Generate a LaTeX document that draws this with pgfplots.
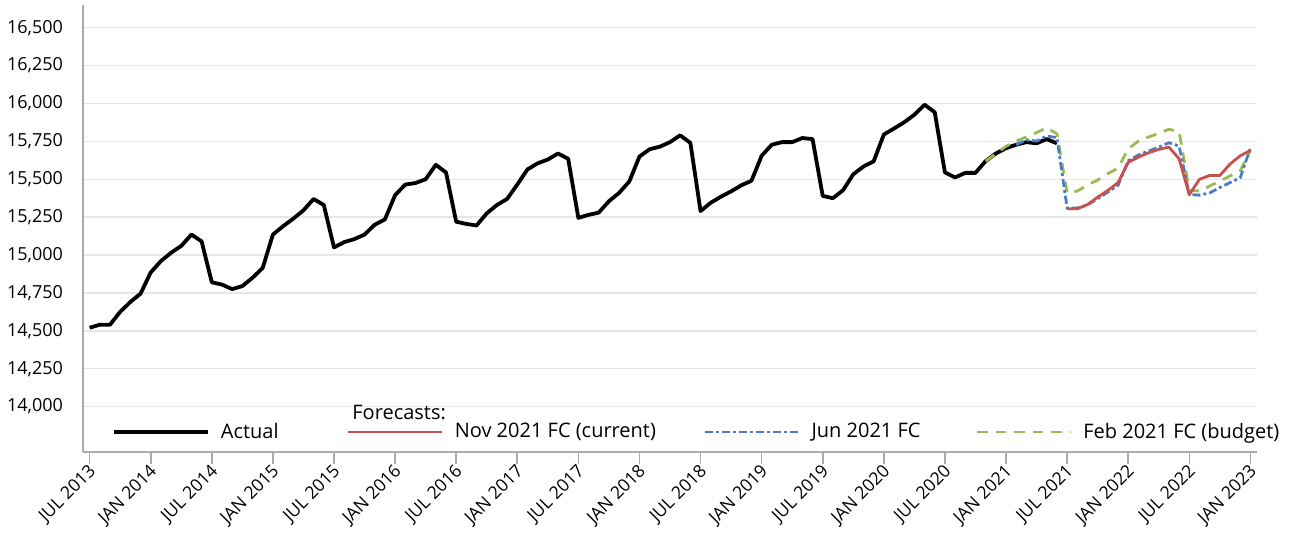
\documentclass[border=0pt]{standalone}
\usepackage{fontspec}
\setmainfont{Open Sans}
\usepackage{pgfplots}
\pgfplotsset{compat=1.18}
\definecolor{fcred}{HTML}{C8504D}
\definecolor{fcblue}{HTML}{4A7EC4}
\definecolor{fcgreen}{HTML}{9BBB59}
\definecolor{gridc}{HTML}{E6E6E6}
\definecolor{axc}{HTML}{ABABAB}
\begin{document}
\begin{tikzpicture}
\begin{axis}[
  scale only axis, width=587bp, height=223.5bp,
  xmin=-0.65, xmax=114.65, ymin=13700, ymax=16650,
  axis x line*=bottom, axis y line*=left,
  axis line style={axc, line width=1bp},
  xtick={0,6,...,114},
  xticklabels={JUL 2013,JAN 2014,JUL 2014,JAN 2015,JUL 2015,JAN 2016,JUL 2016,JAN 2017,JUL 2017,JAN 2018,JUL 2018,JAN 2019,JUL 2019,JAN 2020,JUL 2020,JAN 2021,JUL 2021,JAN 2022,JUL 2022,JAN 2023},
  x tick label style={rotate=45, anchor=east, font=\fontsize{8.8bp}{10bp}\selectfont, xshift=3bp, yshift=-3bp},
  xtick style={axc, line width=0.8bp},
  tick align=outside, major tick length=6bp,
  ytick={14000,14250,...,16500},
  ytick style={draw=none},
  ymajorgrids, grid style={gridc, line width=0.75bp},
  y tick label style={font=\fontsize{9bp}{10bp}\selectfont, xshift=-0.5bp},
  scaled y ticks=false,
  /pgf/number format/1000 sep={,},
  /pgf/number format/assume math mode=true,
  legend columns=4,
  legend style={draw=none, fill=none, inner sep=0pt, at={(0.0245,0.0447)}, anchor=west,
    font=\fontsize{10bp}{12bp}\selectfont, nodes={inner sep=0pt},
    /tikz/every odd column/.style={column sep=5.5bp},
    /tikz/every even column/.style={column sep=0bp}},
  legend image code/.code={\draw[#1] (0bp,0bp) -- (47bp,0bp);},
]
\addlegendimage{black, line width=1.9bp}
\addlegendentry{\makebox[63bp][l]{Actual}}
\addlegendimage{fcred, line width=1.4bp}
\addlegendentry{\makebox[124.5bp][l]{Nov 2021 FC (current)}}
\addlegendimage{fcblue, line width=1.4bp, dash pattern=on 4bp off 1.5bp on 1.5bp off 1.5bp}
\addlegendentry{\makebox[82bp][l]{Jun 2021 FC}}
\addlegendimage{fcgreen, line width=1.4bp, dash pattern=on 5.3bp off 4bp}
\addlegendentry{Feb 2021 FC (budget)}

\addplot[black, line width=1.9bp, line join=round, forget plot] coordinates {
(0,14520)(1,14540)(2,14540)(3,14625)(4,14690)(5,14745)(6,14885)(7,14960)(8,15015)(9,15060)
(10,15135)(11,15090)(12,14820)(13,14805)(14,14775)(15,14795)(16,14850)(17,14915)(18,15135)(19,15190)
(20,15240)(21,15295)(22,15370)(23,15330)(24,15050)(25,15085)(26,15105)(27,15135)(28,15200)(29,15235)
(30,15395)(31,15465)(32,15475)(33,15500)(34,15595)(35,15545)(36,15220)(37,15205)(38,15195)(39,15275)
(40,15330)(41,15370)(42,15465)(43,15565)(44,15605)(45,15630)(46,15670)(47,15635)(48,15245)(49,15265)
(50,15280)(51,15355)(52,15410)(53,15485)(54,15650)(55,15698)(56,15715)(57,15745)(58,15790)(59,15740)
(60,15290)(61,15345)(62,15385)(63,15420)(64,15460)(65,15490)(66,15655)(67,15728)(68,15745)(69,15745)
(70,15772)(71,15765)(72,15390)(73,15375)(74,15428)(75,15533)(76,15584)(77,15618)(78,15795)(79,15835)
(80,15876)(81,15926)(82,15992)(83,15942)(84,15545)(85,15512)(86,15542)(87,15542)(88,15620)(89,15670)
(90,15705)(91,15728)(92,15745)(93,15737)(94,15765)(95,15737)};

\addplot[fcgreen, line width=1.4bp, dash pattern=on 5.3bp off 4bp, forget plot] coordinates {
(88,15620)(89,15668)(90,15718)(91,15752)(92,15779)(93,15808)(94,15840)(95,15800)(96,15412)(97,15422)
(98,15462)(99,15495)(100,15537)(101,15573)(102,15700)(103,15752)(104,15779)(105,15803)(106,15830)(107,15814)
(108,15428)(109,15422)(110,15455)(111,15488)(112,15522)(113,15556)(114,15688)};

\addplot[fcblue, line width=1.4bp, dash pattern=on 4bp off 1.5bp on 1.5bp off 1.5bp, forget plot] coordinates {
(91,15728)(92,15760)(93,15752)(94,15785)(95,15775)(96,15310)(97,15310)(98,15330)(99,15372)(100,15415)
(101,15460)(102,15622)(103,15660)(104,15686)(105,15712)(106,15741)(107,15719)(108,15400)(109,15395)(110,15410)
(111,15445)(112,15478)(113,15510)(114,15705)};

\addplot[fcred, line width=1.4bp, line join=round, forget plot] coordinates {
(96,15305)(97,15305)(98,15333)(99,15382)(100,15426)(101,15478)(102,15612)(103,15646)(104,15675)(105,15697)
(106,15712)(107,15635)(108,15398)(109,15500)(110,15525)(111,15525)(112,15600)(113,15655)(114,15690)};
\end{axis}
\node[anchor=west, inner sep=0pt, font=\fontsize{10bp}{12bp}\selectfont] at (134.5bp,19.5bp) {Forecasts:};
\pgfresetboundingbox
\useasboundingbox (-41.5bp,-44.5bp) rectangle (606.5bp,226bp);
\end{tikzpicture}
\end{document}
